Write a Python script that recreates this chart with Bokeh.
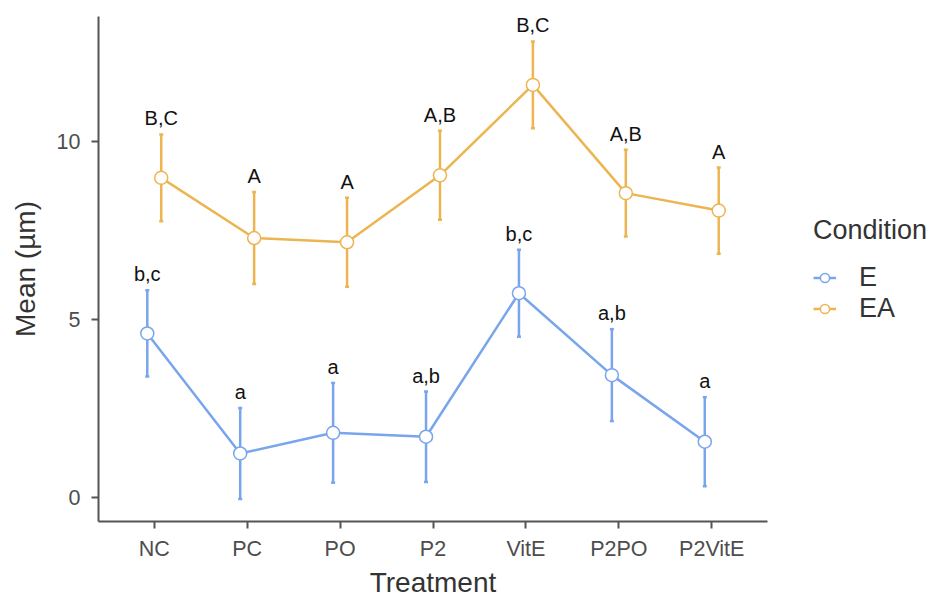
from bokeh.plotting import figure
from bokeh.layouts import row
from bokeh.models import (ColumnDataSource, FactorRange, Range1d, Whisker, TeeHead,
                          Legend, LegendItem, FixedTicker)
from bokeh.transform import dodge
from bokeh.core.properties import value
from bokeh.embed import file_html
from bokeh.resources import INLINE

# ---- data ----
treatments = ["NC", "PC", "PO", "P2", "VitE", "P2PO", "P2VitE"]
conditions = ["E", "EA"]
e_mean = [4.60, 1.23, 1.81, 1.70, 5.73, 3.43, 1.56]
e_se = [1.21, 1.28, 1.40, 1.27, 1.22, 1.29, 1.25]
ea_mean = [8.97, 7.28, 7.16, 9.04, 11.58, 8.54, 8.05]
ea_se = [1.22, 1.29, 1.25, 1.25, 1.22, 1.22, 1.21]
e_letters = ["b,c", "a", "a", "a,b", "b,c", "a,b", "a"]
ea_letters = ["B,C", "A", "A", "A,B", "B,C", "A,B", "A"]
y_ticks = [0, 5, 10]

colors = {"E": "#78a5ec", "EA": "#ecb551"}
FONT = "Liberation Sans"

p = figure(width=770, height=601,
           x_range=FactorRange(factors=treatments, range_padding=0.2 / 7,
                               range_padding_units="percent"),
           y_range=Range1d(-0.68, 13.5),
           output_backend="svg", toolbar_location=None,
           min_border_left=98, min_border_right=3,
           min_border_top=16, min_border_bottom=80,
           x_axis_label="Treatment", y_axis_label="Mean (µm)")

p.background_fill_color = "white"
p.border_fill_color = "white"
p.outline_line_color = None
p.xgrid.visible = False
p.ygrid.visible = False

for ax in (p.xaxis[0], p.yaxis[0]):
    ax.axis_line_color = "#555555"
    ax.axis_line_width = 2
    ax.major_tick_line_color = "#555555"
    ax.major_tick_line_width = 2
    ax.major_tick_out = 7
    ax.major_tick_in = 0
    ax.minor_tick_line_color = None
    ax.major_label_text_font = FONT
    ax.major_label_text_font_size = "21.5px"
    ax.major_label_text_color = "#4d4d4d"
    ax.axis_label_text_font = FONT
    ax.axis_label_text_font_size = "28px"
    ax.axis_label_text_font_style = "normal"
    ax.axis_label_text_color = "#333333"

p.yaxis.ticker = FixedTicker(ticks=y_ticks)
p.xaxis.major_label_standoff = 8
p.yaxis.major_label_standoff = 11
p.xaxis.axis_label_standoff = 3
p.yaxis.axis_label_standoff = 13

# legend panel (separate figure to the right)
lg = figure(width=166, height=601, output_backend="svg", toolbar_location=None,
            x_axis_location=None, y_axis_location=None,
            min_border=0, x_range=Range1d(0, 1), y_range=Range1d(0, 1))
lg.outline_line_color = None
lg.xgrid.visible = False
lg.ygrid.visible = False
lg.background_fill_color = "white"
lg.border_fill_color = "white"

items = []
series = [("E", e_mean, e_se, e_letters, -0.075),
          ("EA", ea_mean, ea_se, ea_letters, 0.075)]
for cond, means, ses, letters, off in series:
    c = colors[cond]
    src = ColumnDataSource(dict(
        t=treatments, m=means,
        lo=[m - s for m, s in zip(means, ses)],
        hi=[m + s for m, s in zip(means, ses)],
        lab=letters))
    xd = dodge("t", off, range=p.x_range)
    w = Whisker(source=src, base=xd, upper="hi", lower="lo",
                line_color=c, line_width=2.5,
                upper_head=TeeHead(size=4, line_color=c, line_width=2.5),
                lower_head=TeeHead(size=4, line_color=c, line_width=2.5))
    p.add_layout(w)
    p.line(x=xd, y="m", source=src, line_color=c, line_width=2.5)
    p.scatter(x=xd, y="m", source=src, size=13, fill_color="white",
              line_color=c, line_width=1.5)
    p.text(x=xd, y="hi", text="lab", source=src, y_offset=-16,
           text_align="center", text_baseline="alphabetic",
           text_font=value(FONT), text_font_size="20px", text_color="#111111")
    # key glyphs for the legend panel (placed outside the visible range)
    kl = lg.line(x=[-5, -4], y=[-5, -5], line_color=c, line_width=2.5)
    ks = lg.scatter(x=[-5], y=[-5], size=13, fill_color="white",
                    line_color=c, line_width=1.5)
    items.append(LegendItem(label=cond, renderers=[kl, ks]))

legend = Legend(items=items, title="Condition", location=(43, 197),
                orientation="vertical")
legend.title_text_font = FONT
legend.title_text_font_size = "27px"
legend.title_text_font_style = "normal"
legend.title_text_color = "#333333"
legend.title_standoff = 16
legend.label_text_font = FONT
legend.label_text_font_size = "27px"
legend.label_text_color = "#333333"
legend.label_standoff = 23
legend.label_height = 29
legend.glyph_height = 29
legend.glyph_width = 23
legend.spacing = -5
legend.padding = 5
legend.margin = 0
legend.border_line_color = None
legend.background_fill_alpha = 0
lg.add_layout(legend)

layout = row(p, lg, spacing=0)
open("out.html", "w").write(file_html(layout, INLINE))
